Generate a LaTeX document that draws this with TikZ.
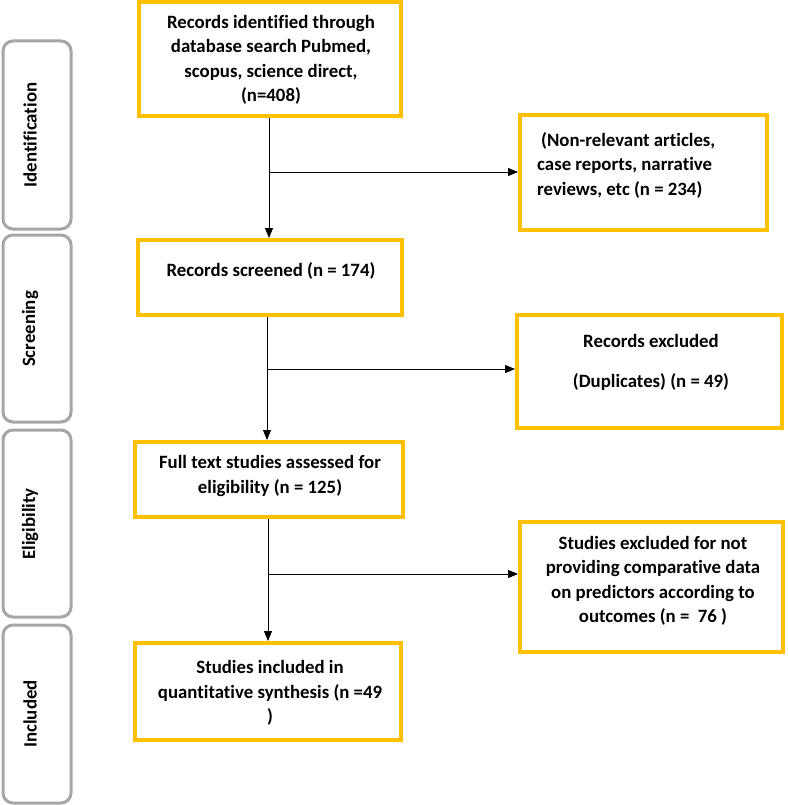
\documentclass[tikz,border=0pt]{standalone}
\usepackage{fontspec}
\setmainfont{Carlito}[Ligatures=NoCommon]
\usetikzlibrary{arrows.meta}
\definecolor{yel}{HTML}{FFC000}
\definecolor{gry}{HTML}{A6A6A6}
\begin{document}
\begin{tikzpicture}[x=1pt,y=-1pt,
  yellowbox/.style={draw=yel,line width=4pt,inner sep=0pt,fill=white},
  graybox/.style={draw=gry,line width=3pt,rounded corners=10pt,inner sep=0pt,minimum width=68pt},
  txt/.style={font=\fontsize{18.8}{24.5}\selectfont\bfseries,align=center,inner sep=0pt},
  sidetxt/.style={font=\fontsize{18.8}{20}\selectfont\bfseries,rotate=90,inner sep=0pt},
  arr/.style={draw=black,line width=0.9pt,-{Triangle[length=10pt,width=8pt]}},
  ln/.style={draw=black,line width=0.9pt}]
\useasboundingbox[fill=white] (0,0) rectangle (787,805);
% side stage boxes
\node[graybox,minimum height=188pt] (s1) at (37,135) {};
\node[graybox,minimum height=187pt] (s2) at (37,328.5) {};
\node[graybox,minimum height=187pt] (s3) at (37,523.5) {};
\node[graybox,minimum height=178pt] (s4) at (37,714) {};
\node[sidetxt] (s1t) at (30,135) {Identification};
\node[sidetxt] (s2t) at (30,329) {Screening};
\node[sidetxt] (s3t) at (30,524) {Eligibility};
\node[sidetxt] (s4t) at (30,714) {Included};
% main boxes
\node[yellowbox,minimum width=262pt,minimum height=114pt] (b1) at (270,59) {};
\node[yellowbox,minimum width=264pt,minimum height=75pt] (b2) at (270,277.5) {};
\node[yellowbox,minimum width=268pt,minimum height=75pt] (b3) at (269,479.5) {};
\node[yellowbox,minimum width=266pt,minimum height=97pt] (b4) at (268,691.5) {};
\node[txt] (b1t) at (271,60) {Records identified through\\database search Pubmed,\\scopus, science direct,\\(n=408)};
\node[txt] (b2t) at (271,271) {Records screened (n = 174)};
\node[txt] (b3t) at (270,476) {Full text studies assessed for\\eligibility (n = 125)};
\node[txt] (b4t) at (270,693) {Studies included in\\quantitative synthesis (n =49\\)};
% right boxes
\node[yellowbox,minimum width=247pt,minimum height=115pt] (r1) at (643.5,172.5) {};
\node[yellowbox,minimum width=265pt,minimum height=113pt] (r2) at (649.5,371.5) {};
\node[yellowbox,minimum width=263pt,minimum height=130pt] (r3) at (651.5,587) {};
\node[txt,align=left,anchor=west] (r1t) at (537,165) {\hspace{4pt}(Non-relevant articles,\\case reports, narrative\\reviews, etc (n = 234)};
\node[txt] (r2t) at (651,362) {Records excluded\\[15.5pt](Duplicates) (n = 49)};
\node[txt] (r3t) at (653,581) {Studies excluded for not\\providing comparative data\\on predictors according to\\outcomes (n = \ 76 )};
% connectors
\coordinate (j1) at (269,172);
\coordinate (j2) at (267,369);
\coordinate (j3) at (268,574);
\draw[arr] (j1 |- b1.south) -- (j1 |- b2.north);
\draw[arr] (j1) -- (j1 -| r1.west);
\draw[arr] (j2 |- b2.south) -- (j2 |- b3.north);
\draw[arr] (j2) -- (j2 -| r2.west);
\draw[arr] (j3 |- b3.south) -- (j3 |- b4.north);
\draw[arr] (j3) -- (j3 -| r3.west);
\end{tikzpicture}
\end{document}
